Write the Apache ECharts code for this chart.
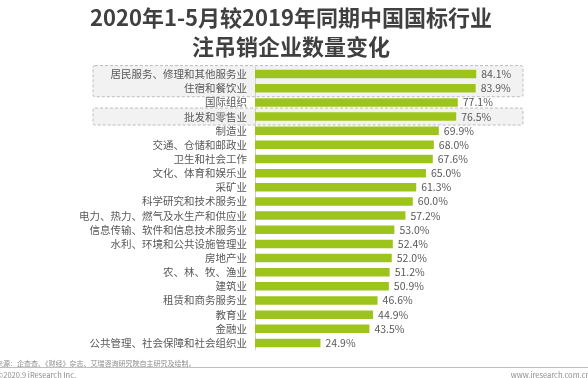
<!DOCTYPE html>
<html><head><meta charset="utf-8">
<script src="https://cdn.jsdelivr.net/npm/echarts@6/dist/echarts.min.js"></script>
<style>html,body{margin:0;padding:0;background:#fff}#c{width:588px;height:378px}</style>
</head><body><div id="c"></div>
<script>
const categories = ["居民服务、修理和其他服务业","住宿和餐饮业","国际组织","批发和零售业","制造业","交通、仓储和邮政业","卫生和社会工作","文化、体育和娱乐业","采矿业","科学研究和技术服务业","电力、热力、燃气及水生产和供应业","信息传输、软件和信息技术服务业","水利、环境和公共设施管理业","房地产业","农、林、牧、渔业","建筑业","租赁和商务服务业","教育业","金融业","公共管理、社会保障和社会组织业"];
const values = [84.1,83.9,77.1,76.5,69.9,68.0,67.6,65.0,61.3,60.0,57.2,53.0,52.4,52.0,51.2,50.9,46.6,44.9,43.5,24.9];
const highlightGroups = [[0,1],[3,3]];
const titleLines = ["2020年1-5月较2019年同期中国国标行业","注吊销企业数量变化"];
const sourceText = "来源：企查查、《财经》杂志、艾瑞咨询研究院自主研究及绘制。";
const copyrightText = "©2020.9 iResearch Inc.";
const siteText = "www.iresearch.com.cn";

const font = '"Noto Sans CJK SC","Noto Sans",sans-serif';
const chart = echarts.init(document.getElementById('c'));
const option = {
  animation:false,
  backgroundColor:'#fff',
  grid:{left:255,right:70,top:67,bottom:28},
  xAxis:{type:'value',min:0,max:100,show:false},
  yAxis:{type:'category',data:categories,inverse:true,
    axisLine:{show:true,lineStyle:{color:'#d0d0d0',width:1}},
    axisTick:{show:false},
    axisLabel:{fontSize:10.5,color:'#595959',margin:8,fontFamily:font}},
  series:[{type:'bar',data:values,barWidth:8.5,z:5,
    itemStyle:{color:'#9dc41c'},
    label:{show:true,position:'right',distance:5,fontSize:10.5,color:'#595959',fontFamily:font,
      formatter:p=>p.value.toFixed(1)+'%'}}]
};
chart.setOption(option);
const g = [
  {type:'text',z:10,x:291,y:18,style:{text:titleLines[0],font:'bold 22px '+font,fill:'#404040',textAlign:'center',textVerticalAlign:'middle'}},
  {type:'text',z:10,x:291,y:47,style:{text:titleLines[1],font:'bold 22px '+font,fill:'#404040',textAlign:'center',textVerticalAlign:'middle'}},
  {type:'text',z:10,x:-4,y:363,style:{text:sourceText,font:'7px '+font,fill:'#8c8c8c',textVerticalAlign:'middle'}},
  {type:'line',z:10,shape:{x1:0,y1:367.5,x2:588,y2:367.5},style:{stroke:'#bfbfbf',lineWidth:1}},
  {type:'text',z:10,x:-3,y:375,style:{text:copyrightText,font:'7.5px '+font,fill:'#8c8c8c',textVerticalAlign:'middle'}},
  {type:'text',z:10,x:590,y:375,style:{text:siteText,font:'7.5px '+font,fill:'#8c8c8c',textAlign:'right',textVerticalAlign:'middle'}}
];
highlightGroups.forEach(([a,b])=>{
  const ya = chart.convertToPixel({yAxisIndex:0}, categories[a]);
  const yb = chart.convertToPixel({yAxisIndex:0}, categories[b]);
  g.push({type:'rect',z:-1,shape:{x:93,y:ya-8.5,width:430,height:yb-ya+17,r:2},
    style:{fill:'#f2f2f2',stroke:'#bdbdbd',lineWidth:1,lineDash:[3,2]}});
});
chart.setOption({graphic:g});
</script></body></html>
